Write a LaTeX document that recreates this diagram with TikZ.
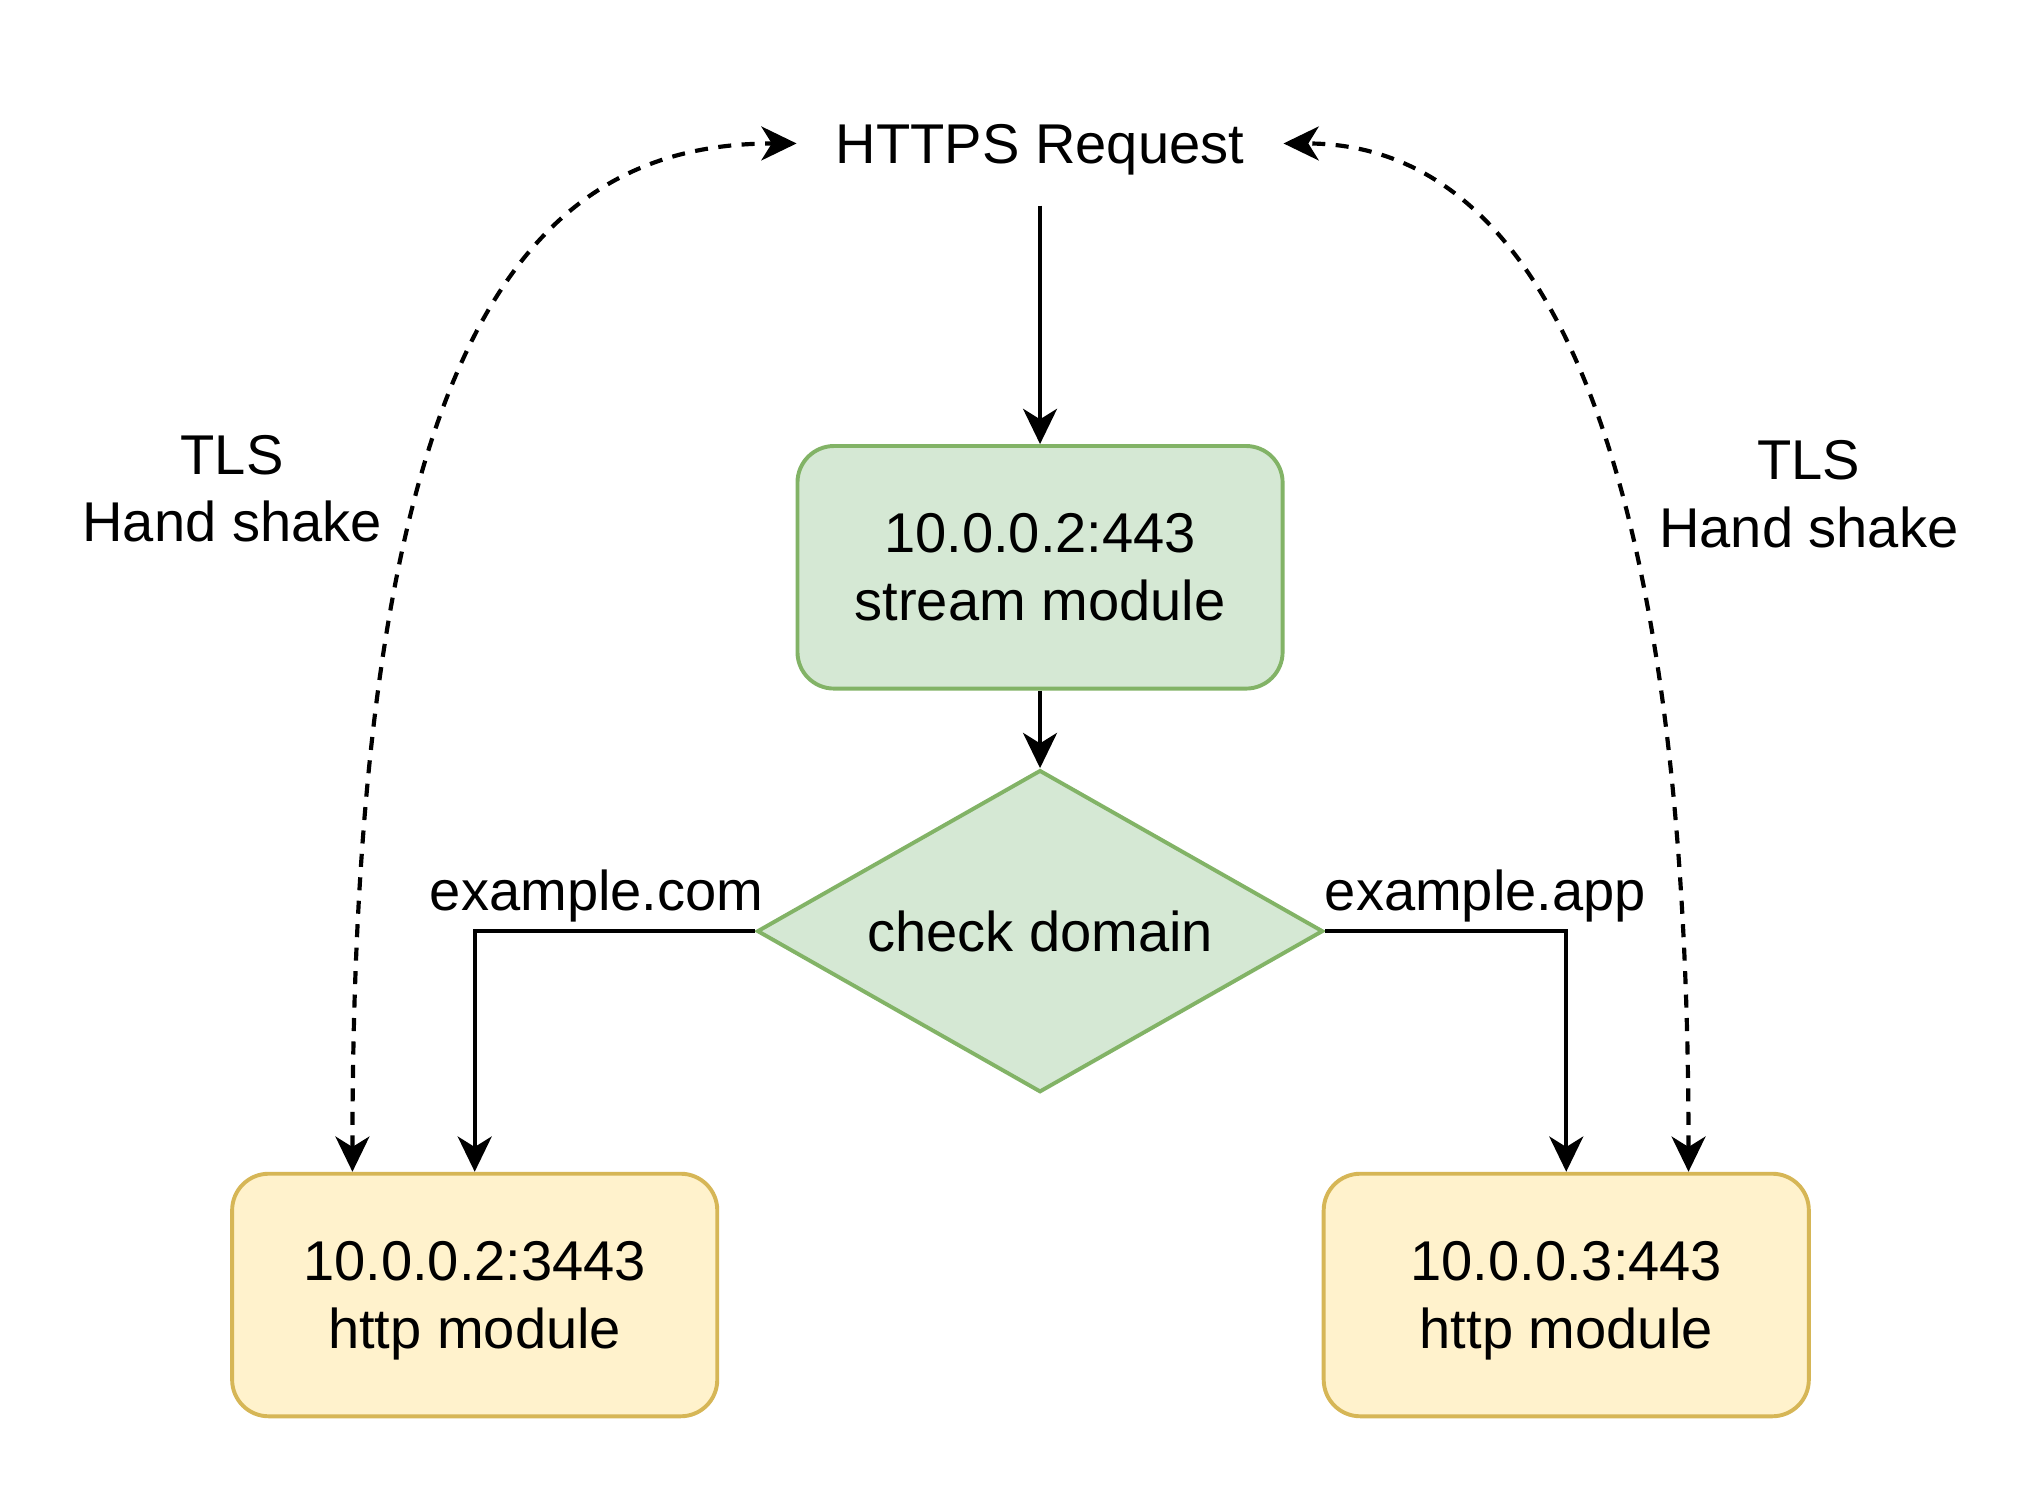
\documentclass[tikz,border=0pt]{standalone}
\usepackage{fontspec}
\setmainfont{Liberation Sans}
\usetikzlibrary{shapes.geometric,arrows.meta,calc}
\definecolor{gfill}{HTML}{D5E8D4}
\definecolor{gstroke}{HTML}{82B366}
\definecolor{yfill}{HTML}{FFF2CC}
\definecolor{ystroke}{HTML}{D6B656}
\begin{document}
\begin{tikzpicture}[x=1pt,y=-1pt,
  every node/.style={font=\fontsize{43}{52}\selectfont, text depth=0pt, inner sep=0pt},
  gbox/.style={draw=gstroke, fill=gfill, line width=3pt, rounded corners=28pt, minimum width=372pt, minimum height=186pt, align=center},
  ybox/.style={draw=ystroke, fill=yfill, line width=3pt, rounded corners=28pt, minimum width=372pt, minimum height=186pt, align=center},
  tip/.style={},
  conn/.style={line width=3.2pt, -{Stealth[length=27pt,width=26pt,inset=8pt]}},
  dconn/.style={line width=3.2pt, dash pattern=on 10pt off 8pt, {Stealth[length=27pt,width=26pt,inset=8pt]}-{Stealth[length=27pt,width=26pt,inset=8pt]}}
]
\fill[white] (0,0) rectangle (1552,1138);
\useasboundingbox (0,0) rectangle (1552,1138);

\node[minimum width=373pt, minimum height=95pt] (req) at (797.5,110) {HTTPS Request};
\node[gbox] (stream) at (797.5,435) {10.0.0.2:443\\stream module};
\node[diamond, draw=gstroke, fill=gfill, line width=3pt, aspect=1.757, minimum width=434pt, minimum height=247pt] (dia) at (797.5,714) {check domain};
\node[ybox] (lbox) at (364,993) {10.0.0.2:3443\\http module};
\node[ybox] (rbox) at (1201,993) {10.0.0.3:443\\http module};

\node[anchor=base] (lcom) at (457.5,698) {example.com};
\node[anchor=base] (lapp) at (1139,698) {example.app};
\node[align=center] (ltls) at (178,374.5) {TLS\\Hand shake};
\node[align=center] (rtls) at (1387,378.5) {TLS\\Hand shake};

\draw[conn] (req.south) -- (stream.north);
\draw[conn] (stream.south) -- (dia.north);
\draw[conn] (dia.west) -| (lbox.north);
\draw[conn] (dia.east) -| (rbox.north);

\coordinate (lend) at ($(lbox.north west)!0.25!(lbox.north east)$);
\coordinate (rend) at ($(rbox.north west)!0.75!(rbox.north east)$);
\draw[dconn] (lend) .. controls +(0,-650) and +(-200,0) .. (req.west);
\draw[dconn] (rend) .. controls +(0,-550) and +(200,0) .. (req.east);
\end{tikzpicture}
\end{document}
